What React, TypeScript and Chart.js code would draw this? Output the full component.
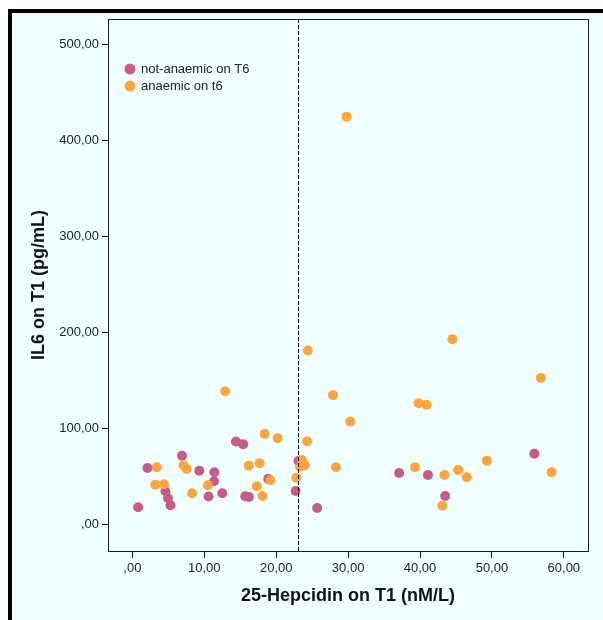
import React, { useEffect, useRef } from "react";
import { Chart, registerables } from "chart.js";

Chart.register(...registerables);

// 25-Hepcidin on T1 (nM/L) vs IL6 on T1 (pg/mL), split by anaemia status on T6
const notAnaemicHepcidin = [0.8, 2.1, 4.6, 4.95, 5.3, 6.9, 9.3, 10.6, 11.4, 11.35, 12.5, 14.4, 15.4, 15.7, 16.2, 18.9, 22.7, 23.1, 25.7, 37.1, 41.1, 43.5, 55.9];
const notAnaemicIL6 = [17.7, 58.6, 34.4, 27.1, 19.8, 71.4, 55.7, 28.9, 54.2, 44.9, 32.3, 86.2, 83.5, 29.2, 28.5, 47.3, 34.7, 66.0, 17.0, 53.5, 51.4, 29.5, 73.6];

const anaemicHepcidin = [3.2, 3.4, 4.4, 7.1, 7.55, 8.3, 10.5, 12.9, 16.2, 17.3, 17.7, 18.1, 18.4, 19.2, 20.2, 22.8, 23.3, 23.6, 24.0, 24.3, 24.4, 27.9, 28.3, 29.8, 30.3, 39.3, 39.8, 40.9, 43.1, 43.4, 44.5, 45.3, 46.5, 49.3, 56.8, 58.3];
const anaemicIL6 = [41.3, 59.5, 41.7, 61.5, 57.7, 32.3, 40.7, 138.7, 61.1, 39.6, 63.6, 29.5, 94.2, 45.9, 89.7, 48.6, 60.0, 67.0, 61.5, 86.6, 181.1, 134.6, 59.5, 425.0, 107.0, 59.5, 126.2, 124.5, 19.4, 51.4, 193.0, 56.6, 49.0, 66.3, 152.6, 54.2];

const seriesNames = ["not-anaemic on T6", "anaemic on t6"];
const seriesColors = ["#c65c8e", "#fda63f"];

const xTickValues = [0, 10, 20, 30, 40, 50, 60];
const xTickLabels = [",00", "10,00", "20,00", "30,00", "40,00", "50,00", "60,00"];
const yTickValues = [0, 100, 200, 300, 400, 500];
const yTickLabels = [",00", "100,00", "200,00", "300,00", "400,00", "500,00"];

const xRange = [-3.39, 63.36];
const yRange = [-27.9, 526.8];

// reference line on the hepcidin axis
const hepcidinCutoff = 23.0;

const xTitle = "25-Hepcidin on T1 (nM/L)";
const yTitle = "IL6 on T1 (pg/mL)";

const FONT = "'Liberation Sans', Arial, Helvetica, sans-serif";

const overlayPlugin = {
  id: "overlay",
  afterDatasetsDraw(chart: any) {
    const { ctx, chartArea, scales } = chart;
    const x = Math.round(scales.x.getPixelForValue(hepcidinCutoff)) + 0.5;
    ctx.save();
    ctx.strokeStyle = "#000";
    ctx.lineWidth = 1;
    ctx.setLineDash([4, 2]);
    ctx.beginPath();
    ctx.moveTo(x, chartArea.top);
    ctx.lineTo(x, chartArea.bottom);
    ctx.stroke();
    ctx.restore();
  },
  afterDraw(chart: any) {
    const { ctx, chartArea } = chart;
    ctx.save();
    // plot frame
    ctx.strokeStyle = "#1a1a1a";
    ctx.lineWidth = 1;
    ctx.strokeRect(
      Math.round(chartArea.left) + 0.5,
      Math.round(chartArea.top) + 0.5,
      Math.round(chartArea.right - chartArea.left),
      Math.round(chartArea.bottom - chartArea.top)
    );
    // legend inside the plot
    const lx = chartArea.left + 22;
    const ly = chartArea.top + 50;
    ctx.font = `13px ${FONT}`;
    ctx.textBaseline = "middle";
    ctx.textAlign = "left";
    seriesNames.forEach((name, i) => {
      const cy = ly + i * 17;
      ctx.fillStyle = seriesColors[i];
      ctx.beginPath();
      ctx.arc(lx, cy, 5.5, 0, Math.PI * 2);
      ctx.fill();
      ctx.fillStyle = "#222";
      ctx.fillText(name, lx + 11, cy + 0.5);
    });
    ctx.restore();
  },
};

export default function App() {
  const canvasRef = useRef<HTMLCanvasElement | null>(null);

  useEffect(() => {
    document.body.style.overflow = "hidden";
    const canvas = canvasRef.current;
    if (!canvas) return;

    const toPoints = (xs: number[], ys: number[]) => xs.map((x, i) => ({ x, y: ys[i] }));

    const chart = new Chart(canvas, {
      type: "scatter",
      data: {
        datasets: [
          {
            label: seriesNames[1],
            data: toPoints(anaemicHepcidin, anaemicIL6),
            backgroundColor: seriesColors[1],
            borderWidth: 0,
            pointRadius: 5,
            pointHoverRadius: 5,
          },
          {
            label: seriesNames[0],
            data: toPoints(notAnaemicHepcidin, notAnaemicIL6),
            backgroundColor: seriesColors[0],
            borderWidth: 0,
            pointRadius: 5,
            pointHoverRadius: 5,
          },
        ],
      },
      options: {
        responsive: false,
        animation: false,
        layout: { padding: { left: 0, top: 6, right: 15, bottom: 0 } },
        plugins: {
          legend: { display: false },
          tooltip: { enabled: false },
        },
        scales: {
          x: {
            type: "linear",
            min: xRange[0],
            max: xRange[1],
            afterBuildTicks: (s: any) => {
              s.ticks = xTickValues.map((v) => ({ value: v }));
            },
            afterFit: (s: any) => {
              s.height = 69;
              s.paddingLeft = 0;
              s.paddingRight = 0;
            },
            border: { display: false },
            grid: {
              display: true,
              drawOnChartArea: false,
              drawTicks: true,
              tickLength: 7,
              color: "#1a1a1a",
            },
            ticks: {
              padding: 3,
              color: "#222",
              font: { family: FONT, size: 13 },
              maxRotation: 0,
              callback: (_v: any, i: number) => xTickLabels[i],
            },
            title: {
              display: true,
              text: xTitle,
              color: "#111",
              font: { family: FONT, size: 18, weight: "bold" },
              padding: { top: 0, bottom: 12.7 },
            },
          },
          y: {
            type: "linear",
            min: yRange[0],
            max: yRange[1],
            afterBuildTicks: (s: any) => {
              s.ticks = yTickValues.map((v) => ({ value: v }));
            },
            afterFit: (s: any) => {
              s.width = 96;
              s.paddingTop = 0;
              s.paddingBottom = 0;
            },
            border: { display: false },
            grid: {
              display: true,
              drawOnChartArea: false,
              drawTicks: true,
              tickLength: 6,
              color: "#1a1a1a",
            },
            ticks: {
              padding: 3,
              color: "#222",
              font: { family: FONT, size: 13 },
              callback: (_v: any, i: number) => yTickLabels[i],
            },
            title: {
              display: true,
              text: yTitle,
              color: "#111",
              font: { family: FONT, size: 18, weight: "bold" },
              padding: { top: 16, bottom: 0 },
            },
          },
        },
      },
      plugins: [overlayPlugin],
    });

    return () => {
      chart.destroy();
    };
  }, []);

  return (
    <div
      style={{
        position: "absolute",
        left: 8,
        top: 9,
        width: 591,
        height: 607,
        borderLeft: "4px solid #000",
        borderTop: "4px solid #000",
        background: "#f0ffff",
      }}
    >
      <canvas ref={canvasRef} width={591} height={607} style={{ display: "block" }} />
    </div>
  );
}
